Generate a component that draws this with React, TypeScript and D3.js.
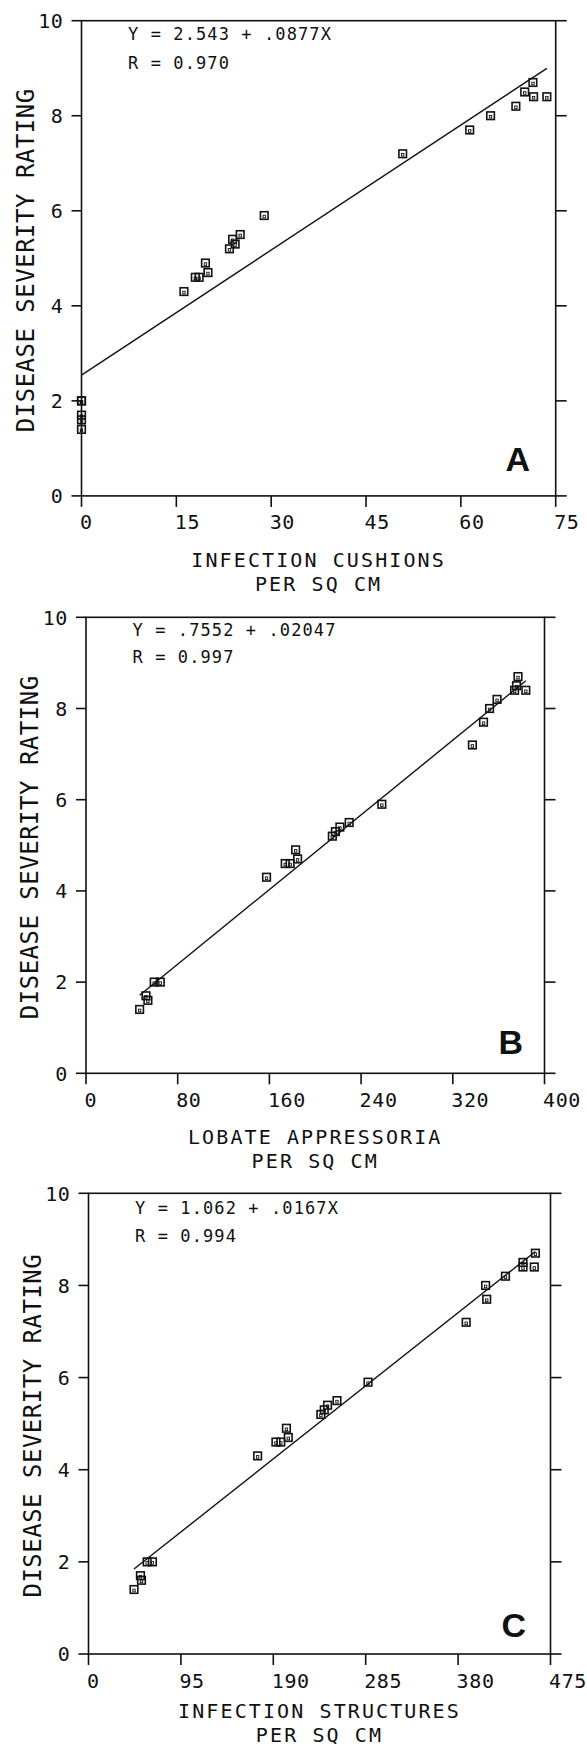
import React from "react";
import { scaleLinear, range, extent } from "d3";

// disease severity rating, shared by the three panels
const severity = [8.7, 8.5, 8.4, 8.4, 8.2, 8.0, 7.7, 7.2, 5.9, 5.5, 5.4, 5.3, 5.2, 4.9, 4.7, 4.6, 4.6, 4.3, 2.0, 2.0, 1.7, 1.6, 1.4];

// x values per panel (same order as severity)
const cushions = [71.4, 70.1, 71.5, 73.6, 68.7, 64.7, 61.4, 50.8, 28.9, 25.1, 23.9, 24.3, 23.4, 19.6, 20.0, 18.0, 18.6, 16.2, 0, 0, 0, 0, 0];
const lobate = [376.9, 375.6, 373.9, 383.7, 358.6, 352.1, 346.8, 337.1, 258.1, 229.6, 221.5, 217.6, 214.9, 182.9, 184.6, 173.8, 178.1, 157.5, 59.5, 64.8, 52.3, 54.0, 46.8];
const structures = [459.5, 446.7, 458.3, 446.7, 428.7, 408.3, 409.4, 388.3, 287.4, 255.5, 245.8, 242.4, 238.9, 203.5, 205.4, 192.7, 197.7, 173.9, 60.3, 65.7, 53.4, 54.5, 46.8];

const intercepts = [2.543, 0.7552, 1.062];
const slopes = [0.0877, 0.02047, 0.0167];
const equations = ["Y = 2.543 + .0877X", "Y = .7552 + .02047", "Y = 1.062 + .0167X"];
const rValues = ["R = 0.970", "R = 0.997", "R = 0.994"];
const panelLetters = ["A", "B", "C"];
const xMaxes = [75, 400, 475];
const xSteps = [15, 80, 95];
const xTitles = [
  ["INFECTION CUSHIONS", "PER SQ CM"],
  ["LOBATE APPRESSORIA", "PER SQ CM"],
  ["INFECTION STRUCTURES", "PER SQ CM"],
];
const yTicks = [0, 2, 4, 6, 8, 10];
const yTitle = "DISEASE SEVERITY RATING";
const xSeries = [cushions, lobate, structures];

const width = 587;
const height = 1748;

// frame of each panel in page pixels
const frames = [
  { left: 81.5, right: 555.7, top: 20.7, bottom: 495.9, eqY: [34, 63], letterRight: 530, letterBase: 470.7, lineFrom: 0, titleY: [71, 95] },
  { left: 86, right: 544.5, top: 617.3, bottom: 1073.3, eqY: [629.5, 657], letterRight: 523, letterBase: 1054, lineFrom: null, titleY: [71, 95] },
  { left: 88.5, right: 550.5, top: 1193.3, bottom: 1654, eqY: [1207.3, 1235.5], letterRight: 526, letterBase: 1637, lineFrom: null, titleY: [64, 88] },
];

const mono = "'DejaVu Sans Mono', monospace";
const ink = "#111";

function Panel({ i }: { i: number }) {
  const f = frames[i];
  const xs = xSeries[i];
  const x = scaleLinear().domain([0, xMaxes[i]]).range([f.left, f.right]);
  const y = scaleLinear().domain([0, 10]).range([f.bottom, f.top]);
  const xTicks = range(0, xMaxes[i] + 1, xSteps[i]);
  const [xmin, xmax] = extent(xs) as [number, number];
  const x0 = f.lineFrom !== null ? f.lineFrom : xmin;
  const fit = (v: number) => intercepts[i] + slopes[i] * v;
  const midY = (f.top + f.bottom) / 2;
  const midX = (f.left + f.right) / 2;

  return (
    <g>
      {/* frame */}
      <rect x={f.left} y={f.top} width={f.right - f.left} height={f.bottom - f.top} fill="none" stroke={ink} strokeWidth={1.6} />
      {yTicks.map((t) => (
        <g key={"y" + t}>
          <line x1={f.left - 10} x2={f.left} y1={y(t)} y2={y(t)} stroke={ink} strokeWidth={1.6} />
          <line x1={f.right} x2={f.right + 11} y1={y(t)} y2={y(t)} stroke={ink} strokeWidth={1.6} />
          <text x={f.left - 18} y={y(t) + 7.2} textAnchor="end" fontFamily={mono} fontSize={20} letterSpacing={0.6} fill={ink}>
            {t}
          </text>
        </g>
      ))}
      {xTicks.map((t) => (
        <g key={"x" + t}>
          <line x1={x(t)} x2={x(t)} y1={f.bottom} y2={f.bottom + 11} stroke={ink} strokeWidth={1.6} />
          <text x={x(t) - 1.5} y={f.bottom + 33.5} fontFamily={mono} fontSize={20} letterSpacing={0.6} fill={ink}>
            {t}
          </text>
        </g>
      ))}
      {/* titles */}
      <text transform={`translate(${f.left - 48},${midY + 2}) rotate(-90)`} textAnchor="middle" fontFamily={mono} fontSize={24} letterSpacing={0.5} fill={ink}>
        {yTitle}
      </text>
      {xTitles[i].map((s, k) => (
        <text key={k} x={midX} y={f.bottom + f.titleY[k]} textAnchor="middle" fontFamily={mono} fontSize={20} letterSpacing={2.1} fill={ink}>
          {s}
        </text>
      ))}
      <text x={f.left + 46.5} y={f.eqY[0] + 6.2} fontFamily={mono} fontSize={17} letterSpacing={1.1} fill={ink}>
        {equations[i]}
      </text>
      <text x={f.left + 46.5} y={f.eqY[1] + 6.2} fontFamily={mono} fontSize={17} letterSpacing={1.1} fill={ink}>
        {rValues[i]}
      </text>
      <text x={f.letterRight} y={f.letterBase} textAnchor="end" fontFamily="'Liberation Sans', Arial, sans-serif" fontWeight="bold" fontSize={34} fill={ink}>
        {panelLetters[i]}
      </text>
      {/* regression line */}
      <line x1={x(x0)} y1={y(fit(x0))} x2={x(xmax)} y2={y(fit(xmax))} stroke={ink} strokeWidth={1.4} />
      {/* points */}
      {xs.map((v, k) => (
        <g key={k} transform={`translate(${x(v)},${y(severity[k])})`}>
          <rect x={-3.8} y={-3.8} width={7.6} height={7.6} fill="none" stroke={ink} strokeWidth={1.6} />
          <rect x={-1.2} y={-0.3} width={2.4} height={2.6} fill="none" stroke={ink} strokeWidth={0.9} />
        </g>
      ))}
    </g>
  );
}

export default function App() {
  return (
    <svg width={width} height={height} style={{ position: "absolute", left: 0, top: 0, display: "block", background: "#fff" }}>
      <rect width={width} height={height} fill="#fff" />
      {frames.map((_, i) => (
        <Panel key={i} i={i} />
      ))}
    </svg>
  );
}
